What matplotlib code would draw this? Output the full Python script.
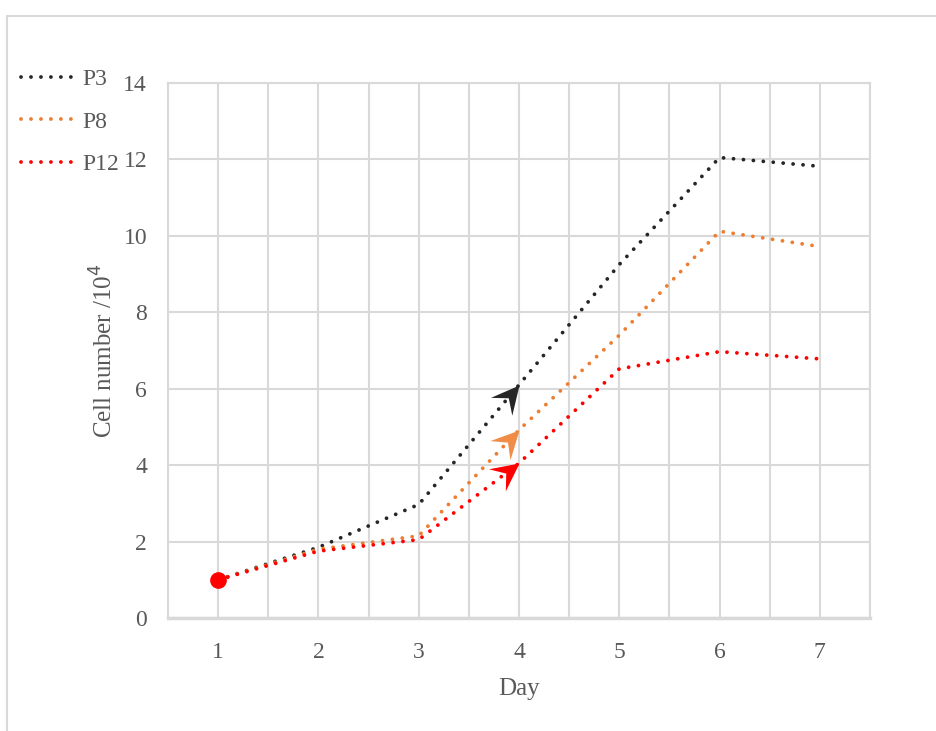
import matplotlib
matplotlib.use("Agg")
import matplotlib.pyplot as plt
import numpy as np
from matplotlib.path import Path
from matplotlib.markers import MarkerStyle
from matplotlib.transforms import Affine2D
from matplotlib.patches import Rectangle

days = [1, 2, 3, 4, 5, 6, 7]
p3 = [1.0, 1.85, 2.97, 6.1, 9.25, 12.05, 11.82]
p8 = [1.0, 1.8, 2.15, 4.92, 7.4, 10.12, 9.72]
p12 = [1.0, 1.75, 2.05, 4.05, 6.52, 6.97, 6.78]
series_names = ["P3", "P8", "P12"]
colors = ["#262626", "#ED7D31", "#FF0000"]
arrow_colors = ["#262626", "#F08C45", "#FF0000"]
yticks = [0, 2, 4, 6, 8, 10, 12, 14]

plt.rcParams['font.family'] = ['Liberation Serif', 'DejaVu Serif']

W, H = 937, 731
fig = plt.figure(figsize=(W / 100, H / 100), dpi=100)
ax = fig.add_axes([168 / W, 1 - 618 / H, (870 - 168) / W, (618 - 83) / H])

# figure border
fig.patches.append(Rectangle((7.5 / W, -0.05), 1.2, (H - 15.5) / H + 0.05,
                             transform=fig.transFigure, fill=False,
                             edgecolor="#d9d9d9", linewidth=1.5, clip_on=False))

ax.set_xlim(0.5, 7.5)
ax.set_ylim(0, 14)
ax.set_xticks(days)
ax.set_yticks(yticks)
ax.set_xticks(np.arange(0.5, 7.6, 1.0), minor=True)
ax.grid(True, which="both", axis="x", color="#d9d9d9", linewidth=1.5)
ax.grid(True, which="major", axis="y", color="#d9d9d9", linewidth=1.5)
ax.set_axisbelow(True)
for s in ax.spines.values():
    s.set_color("#d9d9d9")
    s.set_linewidth(1.5)
ax.spines["bottom"].set_linewidth(2.5)
ax.tick_params(which="both", length=0, labelsize=17, labelcolor="#595959")
ax.tick_params(axis="y", pad=15)
ax.tick_params(axis="x", pad=17)

ax.set_xlabel("Day", fontsize=18, color="#595959", labelpad=11)
ax.set_ylabel("Cell number /10$^4$", fontsize=18, color="#595959", labelpad=4.5)

handles = []
for vals, name, c in zip([p3, p8, p12], series_names, colors):
    ln, = ax.plot(days, vals, color=c, linewidth=2.75, dashes=(0.01, 2.6),
                  dash_capstyle="round", solid_capstyle="round", label=name)
    handles.append(ln)

# start point
ax.plot([days[0]], [p12[0]], "o", color="#FF0000", markersize=11, zorder=5)

# arrowheads at day 4
fig.canvas.draw()
arrow_path = Path([(0, 0), (-1, 0.5), (-0.6, 0), (-1, -0.5), (0, 0)],
                  [Path.MOVETO, Path.LINETO, Path.LINETO, Path.LINETO, Path.CLOSEPOLY])
for vals, c in zip([p3, p8, p12], arrow_colors):
    p0 = ax.transData.transform((days[2], vals[2]))
    p1 = ax.transData.transform((days[3], vals[3]))
    ang = np.degrees(np.arctan2(p1[1] - p0[1], p1[0] - p0[0]))
    m = MarkerStyle(arrow_path, transform=Affine2D().rotate_deg(ang))
    ax.plot([days[3]], [vals[3]], marker=m, markersize=40, color=c,
            markeredgewidth=0, linestyle="none", zorder=6)

fig.legend(handles=handles, loc="upper left", bbox_to_anchor=(9 / W, 1 - 57 / H),
           frameon=False, fontsize=17, handlelength=2.3, handletextpad=0.3,
           labelspacing=0.88, labelcolor="#595959", borderpad=0)

fig.savefig("out.png", dpi=100)
